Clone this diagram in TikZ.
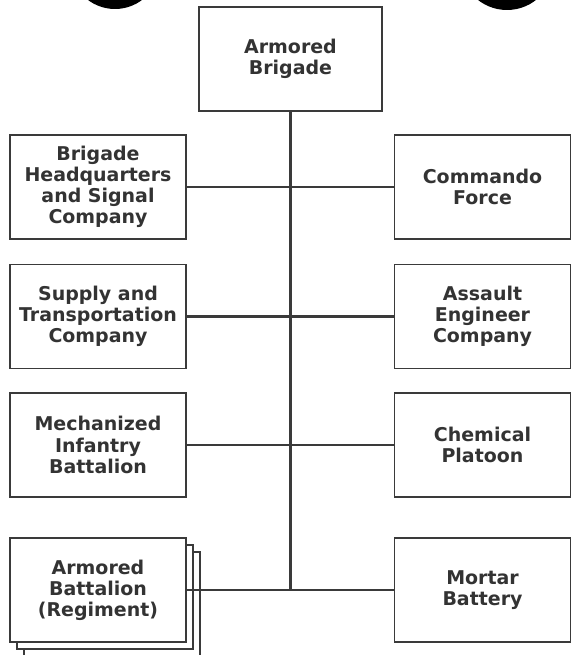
\documentclass[tikz,border=0pt]{standalone}
\usepackage{fontspec}
\setmainfont{DejaVu Sans}
\usepackage{tikz}
\usetikzlibrary{positioning,shadows}
\definecolor{ink}{HTML}{333333}
\definecolor{rule}{HTML}{3A3A3A}

\begin{document}
\begin{tikzpicture}[x=0.02cm,y=-0.02cm,
  unit/.style={rectangle,draw=rule,line width=0.9pt,fill=white,minimum width=3.52cm,minimum height=2.08cm,align=center,inner sep=2pt,font=\fontsize{10.8}{12}\selectfont\bfseries,text=ink},
  link/.style={rule,line width=1.5pt}]
\useasboundingbox[fill=white] (0,0) rectangle (573,655);
\begin{scope}
\clip (0,0) rectangle (573,655);
\fill[black] (115,-36) circle (0.9cm);
\fill[black] (507,-37) circle (0.94cm);
\end{scope}
\node[unit,minimum width=3.66cm] (brig) at (290.5,59) {Armored\\Brigade};
\node[unit] (hq) at (98,187) {Brigade\\Headquarters\\and Signal\\Company};
\node[unit,right=4.14cm of hq] (cmdo) {Commando\\Force};
\node[unit] (supply) at (98,316.5) {Supply and\\Transportation\\Company};
\node[unit,right=4.14cm of supply] (engr) {Assault\\Engineer\\Company};
\node[unit] (mech) at (98,445) {Mechanized\\Infantry\\Battalion};
\node[unit,right=4.14cm of mech] (chem) {Chemical\\Platoon};
\node[unit,copy shadow={shadow xshift=8pt,shadow yshift=-8pt},copy shadow={shadow xshift=4pt,shadow yshift=-4pt}] (armbn) at (98,590) {Armored\\Battalion\\(Regiment)};
\node[unit,right=4.14cm of armbn] (mortar) {Mortar\\Battery};
\draw[link] (brig.south) -- (brig.south |- armbn.east);
\draw[link] (hq.east) -- (cmdo.west);
\draw[link] (supply.east) -- (engr.west);
\draw[link] (mech.east) -- (chem.west);
\draw[link] (armbn.east) -- (mortar.west);
\end{tikzpicture}
\end{document}
